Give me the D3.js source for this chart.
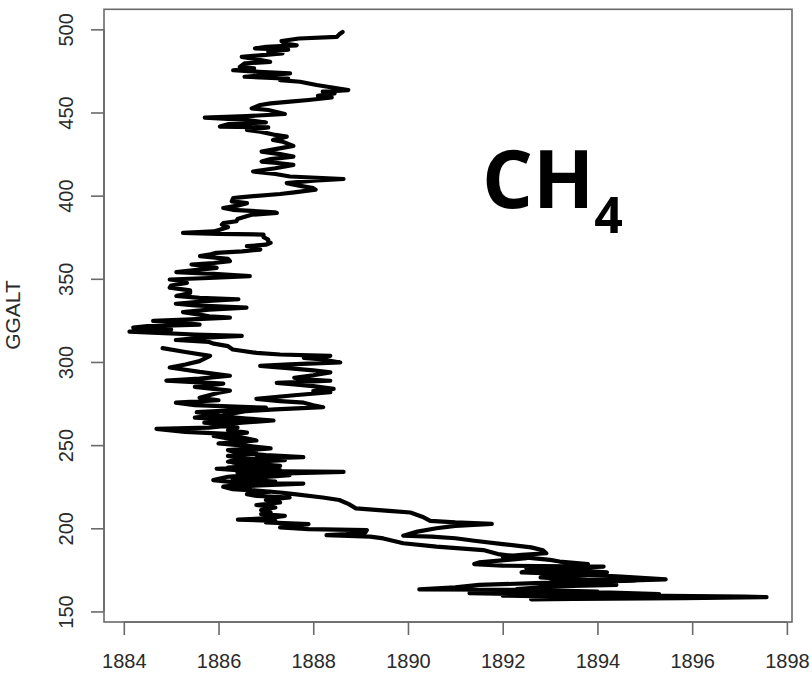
<!DOCTYPE html>
<html>
<head>
<meta charset="utf-8">
<script src="https://cdn.jsdelivr.net/npm/d3@7"></script>
<style>
  body { margin: 0; background: #fff; }
  svg { display: block; }
</style>
</head>
<body>
<svg width="812" height="674"></svg>
<script>
// flight profile: descent from the top, then the climb back
let descentAlt = [498.4,497.0,495.5,494.5,493.0,491.5,490.4,489.5,488.5,487.8,486.5,485.5,483.4,482.0,480.4,479.5,477.4,476.5,475.4,474.5,473.5,472.5,471.5,470.4,469.5,468.5,466.5,465.5,463.5,462.5,461.5,460.0,459.0,457.5,456.5,455.5,454.5,452.5,451.5,449.1,447.8,446.9,445.5,444.0,443.0,441.5,441.0,439.5,438.5,436.5,435.5,433.5,432.5,429.9,428.0,426.5,425.0,423.5,422.0,420.5,419.5,418.5,416.5,414.5,413.0,411.5,410.0,409.0,407.5,406.0,404.5,403.6,402.0,401.0,399.0,398.6,396.6,395.5,394.0,392.6,391.5,390.0,389.6,388.5,387.6,386.0,384.6,383.5,382.6,381.0,378.5,377.6,377.0,376.6,375.0,373.5,372.0,371.6,370.5,369.6,368.5,367.6,366.5,365.6,364.5,363.6,362.0,360.6,359.5,358.6,357.5,356.6,355.5,354.0,353.0,351.6,350.5,349.6,348.5,347.5,346.0,344.7,343.0,341.5,339.7,338.5,337.7,336.5,335.0,334.0,332.7,331.5,330.0,328.5,327.5,326.7,325.5,324.7,323.5,322.5,321.5,320.7,319.5,318.3,317.7,316.5,315.7,314.5,313.2,312.0,311.0,309.5,307.5,305.5,304.5,303.7,302.5,301.5,299.7,298.5,297.7,296.5,295.0,293.7,292.0,290.5,289.5,288.7,287.4,286.5,285.5,283.8,282.5,281.8,280.0,277.8,276.5,275.5,274.0,272.8,271.5,270.5,269.0,267.5,266.0,264.8,263.5,262.0,260.5,259.0,257.5,256.0,254.5,252.8,251.5,250.0,248.5,247.0,245.5,244.0,242.8,241.5,240.0,238.5,237.5,235.8,234.5,233.9,232.5,231.0,229.0,227.5,226.9,225.0,223.0,221.5,220.5,218.5,217.0,214.5,212.0,210.5,209.5,207.0,204.5,203.5,202.6,201.5,200.0,198.0,195.5,195.0,194.0,192.5,190.5,188.5,186.8,185.0,184.0,183.0,182.0,181.0,179.5,178.5,177.5,177.0,176.0,175.0,173.5,172.5,171.0,169.3,168.0,167.0,166.0,164.5,163.3,163.0,162.0,161.0,160.0,159.0,158.6,158.0,157.5,157.3];
let descentCH4 = [1888.62,1888.55,1888.50,1887.70,1887.33,1887.40,1887.65,1887.00,1886.77,1887.47,1887.05,1887.35,1886.49,1886.80,1887.09,1886.55,1886.45,1886.75,1886.31,1886.85,1887.51,1887.00,1886.55,1887.47,1887.30,1887.72,1888.07,1888.30,1888.74,1888.20,1888.45,1888.10,1888.39,1887.90,1887.51,1887.10,1886.88,1886.70,1887.05,1887.40,1886.60,1885.71,1886.59,1887.00,1886.20,1886.03,1887.05,1886.60,1886.88,1887.20,1887.44,1887.15,1887.35,1887.58,1887.20,1886.91,1887.30,1887.58,1887.10,1886.91,1887.30,1887.58,1887.20,1886.73,1887.20,1887.51,1888.64,1888.00,1887.44,1887.70,1888.00,1888.05,1887.60,1887.30,1886.45,1886.31,1886.28,1886.60,1886.40,1886.10,1886.30,1887.19,1887.23,1886.70,1886.59,1886.40,1886.38,1886.10,1886.07,1886.20,1885.90,1885.25,1886.00,1886.95,1886.95,1887.05,1887.05,1887.10,1887.00,1886.60,1886.80,1886.88,1886.50,1885.95,1885.80,1885.61,1886.20,1886.24,1885.90,1885.43,1885.80,1885.96,1885.60,1885.11,1885.90,1886.66,1885.80,1884.97,1885.30,1885.33,1885.00,1884.97,1885.40,1885.40,1885.11,1885.60,1886.42,1885.70,1885.10,1885.50,1886.59,1885.80,1885.25,1885.60,1885.80,1886.24,1885.30,1884.62,1885.20,1885.60,1884.50,1884.20,1885.00,1884.12,1884.60,1885.50,1886.49,1885.60,1885.10,1885.80,1885.90,1886.20,1886.30,1886.80,1887.30,1888.36,1887.80,1888.20,1888.57,1887.50,1886.88,1887.40,1888.00,1888.36,1888.00,1887.60,1887.80,1888.36,1887.23,1887.60,1888.00,1888.43,1888.00,1888.36,1887.60,1886.80,1887.30,1887.80,1888.00,1888.21,1887.20,1886.60,1886.30,1886.00,1886.60,1887.16,1886.50,1885.90,1886.40,1886.20,1886.60,1886.10,1886.50,1886.80,1886.30,1886.50,1886.90,1886.20,1886.40,1887.00,1887.79,1886.40,1886.20,1886.90,1887.30,1885.96,1886.60,1888.64,1886.80,1886.20,1885.89,1886.40,1887.79,1886.30,1886.70,1887.30,1887.60,1888.20,1888.55,1888.75,1888.90,1889.60,1890.05,1890.30,1890.47,1891.00,1891.77,1891.00,1890.60,1890.20,1889.90,1890.50,1891.00,1891.40,1892.00,1892.60,1892.85,1892.92,1892.40,1892.00,1892.50,1892.10,1891.50,1891.40,1892.00,1894.13,1893.20,1892.60,1892.40,1893.50,1894.50,1895.44,1894.00,1892.70,1891.50,1891.00,1890.24,1892.50,1894.00,1891.30,1893.30,1897.10,1897.57,1895.82,1893.50,1892.60];

let ascentAlt = [158.5,159.5,160.5,162.0,163.5,165.0,166.0,167.5,168.5,169.5,170.5,172.0,173.5,175.0,176.0,177.5,178.5,180.0,181.0,183.0,184.5,186.9,189.0,191.0,193.9,195.0,195.9,196.5,197.5,198.9,199.5,200.5,201.5,202.5,203.5,204.5,205.2,206.0,207.5,208.5,209.5,211.0,212.5,214.0,215.5,217.0,218.5,219.5,220.5,222.0,223.5,225.0,226.5,228.0,229.5,230.5,232.0,233.5,235.0,236.5,238.0,239.5,241.0,242.0,243.5,245.0,246.5,248.0,249.5,251.0,252.5,254.0,255.5,256.5,258.0,259.8,260.5,262.0,263.5,265.0,266.5,268.0,269.8,271.0,272.5,274.0,275.5,277.0,278.5,280.0,281.5,282.8,285.0,287.0,288.8,290.0,291.7,294.0,296.7,298.5,300.5,303.7,306.0,308.3];
let ascentCH4 = [1894.20,1892.00,1895.30,1893.60,1892.30,1893.00,1894.40,1893.00,1894.80,1893.30,1892.80,1893.80,1894.20,1893.40,1892.50,1893.60,1893.80,1893.20,1893.00,1892.30,1891.90,1891.59,1890.60,1889.90,1889.48,1889.20,1888.28,1888.70,1889.10,1889.13,1887.90,1887.30,1887.60,1887.90,1887.00,1887.20,1886.41,1887.00,1887.40,1886.90,1887.10,1886.90,1887.20,1886.80,1887.30,1887.00,1887.50,1886.80,1886.60,1887.10,1886.30,1886.10,1886.60,1887.20,1886.30,1886.80,1887.50,1886.40,1887.30,1886.20,1887.00,1886.30,1887.40,1886.50,1886.20,1886.80,1886.30,1887.10,1886.60,1886.00,1886.50,1886.20,1885.90,1886.40,1885.30,1884.69,1885.80,1886.30,1885.70,1886.50,1885.50,1886.00,1885.54,1886.40,1887.00,1885.50,1885.10,1886.00,1885.60,1885.80,1886.00,1886.24,1885.50,1886.10,1884.90,1885.60,1886.24,1885.60,1884.97,1885.30,1885.60,1885.82,1885.30,1884.82];

let xTicks = [1884, 1886, 1888, 1890, 1892, 1894, 1896, 1898];
let yTicks = [150, 200, 250, 300, 350, 400, 450, 500];

let yLabel = "GGALT";

let svg = d3.select("svg");

let plotLeft = 104, plotRight = 792, plotTop = 9.3, plotBottom = 622;

let points = descentAlt.map((a, i) => ({ alt: a, ch4: descentCH4[i] }))
  .concat(ascentAlt.map((a, i) => ({ alt: a, ch4: ascentCH4[i] })));

// R pads the data range by 4% on each side
function padded(ext) {
  let d = (ext[1] - ext[0]) * 0.04;
  return [ext[0] - d, ext[1] + d];
}

let x = d3.scaleLinear()
  .domain(padded(d3.extent(points, d => d.ch4)))
  .range([plotLeft, plotRight]);

let y = d3.scaleLinear()
  .domain(padded(d3.extent(points, d => d.alt)))
  .range([plotBottom, plotTop]);

let axisColor = "#6a6a6a";
let textColor = "#2a2a2a";

// box
svg.append("rect")
  .attr("x", plotLeft)
  .attr("y", plotTop)
  .attr("width", plotRight - plotLeft)
  .attr("height", plotBottom - plotTop)
  .attr("fill", "none")
  .attr("stroke", axisColor)
  .attr("stroke-width", 1.6);

// x axis
let xAxis = svg.append("g")
  .attr("transform", "translate(0," + plotBottom + ")")
  .call(d3.axisBottom(x).tickValues(xTicks).tickSize(13).tickSizeOuter(0).tickFormat(d3.format("d")));

xAxis.select(".domain")
  .attr("d", "M" + x(xTicks[0]) + ",0H" + x(xTicks[xTicks.length - 1]));

xAxis.selectAll("text")
  .attr("y", 46)
  .attr("dy", 0);

// y axis
let yAxis = svg.append("g")
  .attr("transform", "translate(" + plotLeft + ",0)")
  .call(d3.axisLeft(y).tickValues(yTicks).tickSize(13).tickSizeOuter(0));

yAxis.select(".domain")
  .attr("d", "M0," + y(yTicks[0]) + "V" + y(yTicks[yTicks.length - 1]));

yAxis.selectAll("text")
  .attr("x", 0)
  .attr("dy", 0)
  .attr("text-anchor", "middle")
  .attr("transform", "translate(-31,0) rotate(-90)");

svg.selectAll(".domain, .tick line")
  .attr("stroke", axisColor)
  .attr("stroke-width", 1.6);

svg.selectAll(".tick text")
  .attr("fill", textColor)
  .style("font-family", "'Liberation Sans', Arial, sans-serif")
  .style("font-size", "20px");

svg.append("text")
  .attr("transform", "translate(20,315) rotate(-90)")
  .attr("text-anchor", "middle")
  .attr("fill", textColor)
  .style("font-family", "'Liberation Sans', Arial, sans-serif")
  .style("font-size", "21px")
  .text(yLabel);

// the profile
let line = d3.line()
  .x(d => x(d.ch4))
  .y(d => y(d.alt));

svg.append("path")
  .datum(points)
  .attr("d", line)
  .attr("fill", "none")
  .attr("stroke", "#000")
  .attr("stroke-width", 4.2)
  .attr("stroke-linejoin", "round")
  .attr("stroke-linecap", "round");

// CH4 label
let ch4Label = svg.append("text")
  .attr("x", 482)
  .attr("y", 208)
  .attr("fill", "#000")
  .style("font-family", "'Open Sans', 'Noto Sans', sans-serif")
  .style("font-weight", "bold")
  .style("font-size", "80px");

ch4Label.append("tspan").text("CH");
ch4Label.append("tspan")
  .attr("dy", 25)
  .style("font-size", "50px")
  .text("4");
</script>
</body>
</html>
